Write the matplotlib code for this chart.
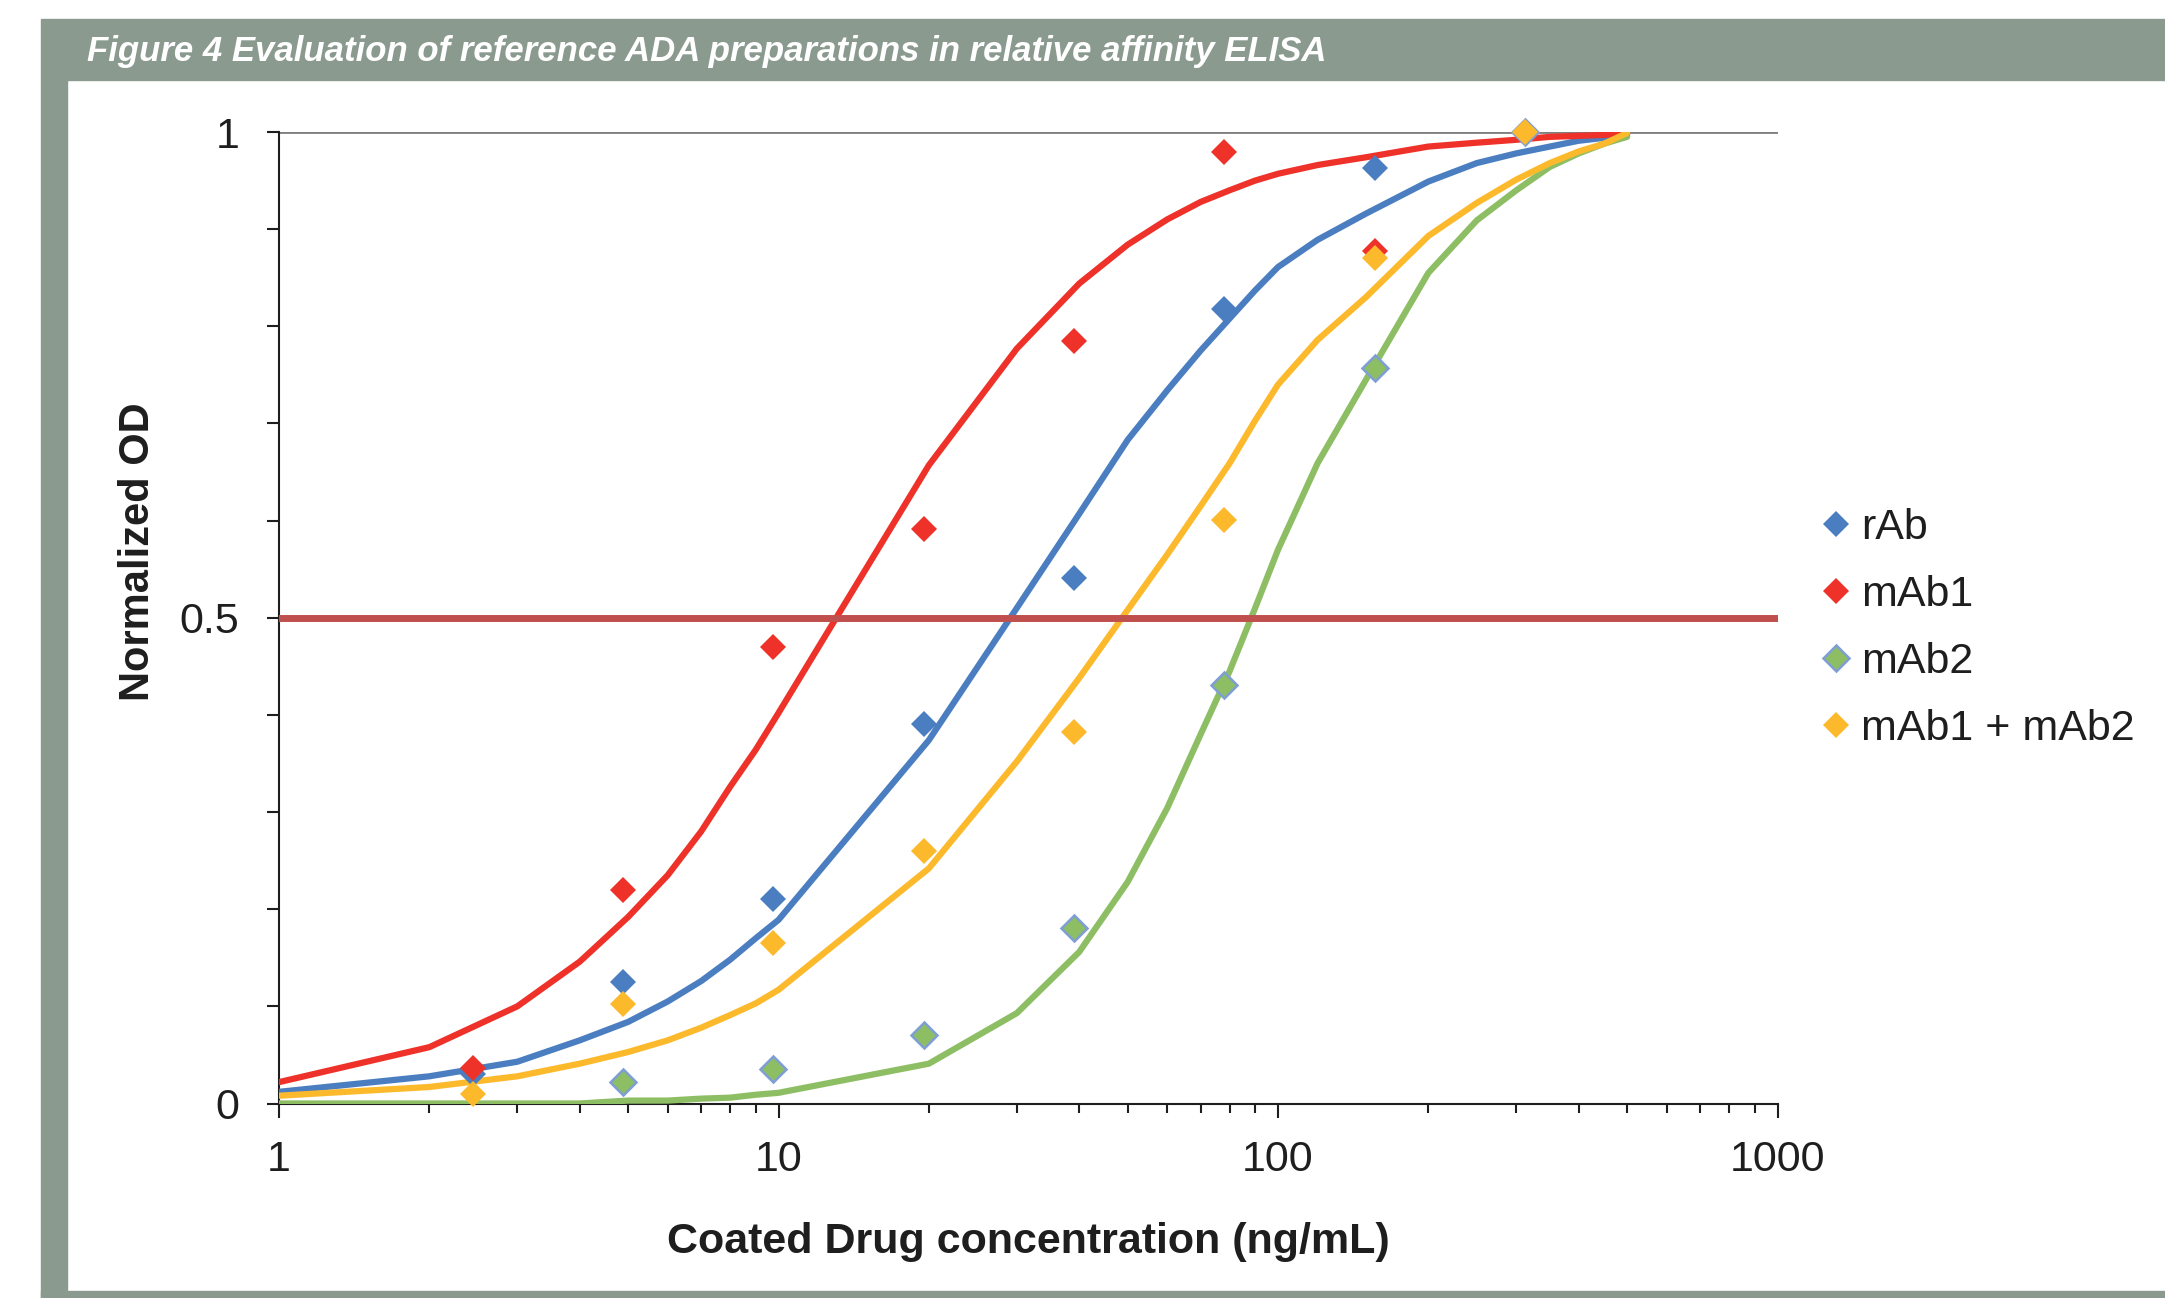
import numpy as np
import matplotlib
matplotlib.use("Agg")
import matplotlib.pyplot as plt
from matplotlib.patches import Rectangle
from matplotlib.ticker import FixedLocator, LogLocator, NullFormatter, FuncFormatter, MultipleLocator

plt.rcParams["font.family"] = ["Liberation Sans", "DejaVu Sans"]

W, H = 2165, 1298

# fitted curves (normalized OD vs coated drug, ng/mL)
conc_fit = [1, 2, 3, 4, 5, 6, 7, 8, 9, 10, 20, 30, 40, 50, 60, 70, 80, 90, 100,
            120, 150, 200, 250, 300, 350, 400, 450, 500]
fit_rab = [0.012, 0.028, 0.043, 0.065, 0.084, 0.105, 0.126, 0.148, 0.170, 0.189,
           0.374, 0.510, 0.607, 0.683, 0.734, 0.775, 0.808, 0.837, 0.861,
           0.889, 0.916, 0.949, 0.968, 0.978, 0.985, 0.991, 0.994, 0.997]
fit_mab1 = [0.022, 0.058, 0.100, 0.146, 0.192, 0.235, 0.280, 0.326, 0.364, 0.402,
            0.657, 0.777, 0.844, 0.884, 0.910, 0.928, 0.940, 0.950, 0.957,
            0.966, 0.974, 0.985, 0.989, 0.992, 0.995, 0.996, 0.997, 0.998]
fit_mab2 = [0.0, 0.0, 0.0, 0.0, 0.003, 0.003, 0.005, 0.006, 0.009, 0.011,
            0.041, 0.093, 0.156, 0.228, 0.304, 0.380, 0.445, 0.510, 0.570,
            0.659, 0.745, 0.855, 0.909, 0.940, 0.964, 0.978, 0.988, 0.995]
fit_mix = [0.008, 0.017, 0.028, 0.041, 0.053, 0.065, 0.078, 0.091, 0.103, 0.117,
           0.242, 0.352, 0.438, 0.508, 0.565, 0.615, 0.659, 0.703, 0.740,
           0.786, 0.830, 0.893, 0.927, 0.951, 0.968, 0.980, 0.988, 0.999]

# measured points, two-fold dilution series
conc = [2.44140625, 4.8828125, 9.765625, 19.53125, 39.0625, 78.125, 156.25, 312.5]
od_rab = [0.030, 0.125, 0.210, 0.391, 0.541, 0.818, 0.963, 1.0]
od_mab1 = [0.037, 0.220, 0.470, 0.591, 0.785, 0.979, 0.877, 1.0]
od_mab2 = [np.nan, 0.022, 0.035, 0.071, 0.181, 0.431, 0.757, 1.0]
od_mix = [0.010, 0.102, 0.165, 0.260, 0.382, 0.601, 0.870, 1.0]

labels = ["rAb", "mAb1", "mAb2", "mAb1 + mAb2"]
threshold = 0.5

BLUE = "#4A7EC0"
RED = "#EE3129"
GREEN = "#8DBE64"
YELLOW = "#FDB92C"
BAND = "#8A9A8F"
INK = "#1E1E1E"

fig = plt.figure(figsize=(W / 100, H / 100), dpi=100)
fig.patch.set_facecolor("white")


def fx(x):
    return x / W


def fy(y):
    return 1 - y / H


# page frame: title band, left rule, bottom rule
fig.patches.append(Rectangle((fx(41), fy(80)), 1 - fx(41), fy(19) - fy(80),
                             transform=fig.transFigure, color=BAND, zorder=0))
fig.patches.append(Rectangle((fx(41), 0), fx(67) - fx(41), fy(80),
                             transform=fig.transFigure, color=BAND, zorder=0))
fig.patches.append(Rectangle((fx(41), 0), 1 - fx(41), 7 / H,
                             transform=fig.transFigure, color=BAND, zorder=0))
fig.text(fx(87), fy(52), "Figure 4 Evaluation of reference ADA preparations in relative affinity ELISA",
         color="white", fontsize=25, fontweight="bold", fontstyle="italic", va="center", ha="left")

ax = fig.add_axes([fx(279), fy(1103.5), fx(1777.5) - fx(279), fy(132) - fy(1103.5)])
ax.set_xscale("log")
ax.set_xlim(1, 1000)
ax.set_ylim(0, 1)

series = [
    (fit_rab, od_rab, BLUE, BLUE, 0),
    (fit_mab1, od_mab1, RED, RED, 0),
    (fit_mab2, od_mab2, GREEN, "#7F9ED4", 1.8),
    (fit_mix, od_mix, YELLOW, YELLOW, 0),
]

handles = []
for fit, od, col, edge, ew in series:
    ax.plot(conc_fit, fit, color=col, lw=4.5, solid_capstyle="round",
            solid_joinstyle="round", zorder=3)
for (fit, od, col, edge, ew), lab in zip(series, labels):
    h, = ax.plot(conc, od, linestyle="none", marker="D", ms=13.5, mfc=col,
                 mec=edge, mew=ew, zorder=5, clip_on=False, label=lab)
    handles.append(h)

ax.axhline(threshold, color="#C0504D", lw=5, zorder=4)

# axes styling
for side in ("top", "right"):
    ax.spines[side].set_visible(False)
for side in ("left", "bottom"):
    ax.spines[side].set_color(INK)
    ax.spines[side].set_linewidth(1.5)

ax.yaxis.set_major_locator(FixedLocator([0, 0.5, 1]))
ax.yaxis.set_major_formatter(FuncFormatter(lambda v, _: f"{v:g}"))
ax.yaxis.set_minor_locator(MultipleLocator(0.1))
ax.grid(axis="y", which="major", color="#7F7F7F", lw=2.0, zorder=1)

ax.xaxis.set_major_locator(FixedLocator([1, 10, 100, 1000]))
ax.xaxis.set_major_formatter(FuncFormatter(lambda v, _: f"{v:g}"))
ax.xaxis.set_minor_locator(LogLocator(base=10, subs=np.arange(2, 10)))
ax.xaxis.set_minor_formatter(NullFormatter())

ax.tick_params(axis="y", which="both", direction="out", length=8.5, width=1.5,
               color=INK, labelsize=31, labelcolor=INK, pad=20)
ax.tick_params(axis="x", which="major", direction="out", length=10, width=1.5,
               color=INK, labelsize=31, labelcolor=INK, pad=16)
ax.tick_params(axis="x", which="minor", direction="out", length=6.5, width=1.5, color=INK)

fig.text(fx(1028), fy(1242), "Coated Drug concentration (ng/mL)", fontsize=31,
         fontweight="bold", color=INK, ha="center", va="center")
fig.text(fx(138), fy(552), "Normalized OD", fontsize=30, fontweight="bold",
         color=INK, ha="center", va="center", rotation=90)

fig.legend(handles=handles, loc="upper left", bbox_to_anchor=(fx(1823), fy(508)),
           frameon=False, fontsize=31, handlelength=0.6, handletextpad=0.28,
           labelspacing=0.63, borderpad=0, borderaxespad=0, labelcolor=INK)

fig.savefig("out.png", dpi=100, facecolor="white")
